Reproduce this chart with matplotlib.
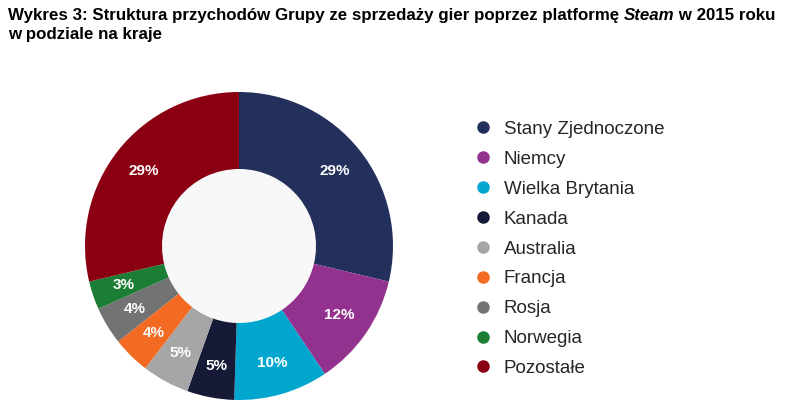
import matplotlib
matplotlib.use("Agg")
import matplotlib.pyplot as plt
from matplotlib.lines import Line2D

categories = ["Stany Zjednoczone", "Niemcy", "Wielka Brytania", "Kanada", "Australia",
              "Francja", "Rosja", "Norwegia", "Pozostałe"]
values = [29, 12, 10, 5, 5, 4, 4, 3, 29]
colors = ["#23305c", "#93328e", "#00a6ce", "#161a36", "#a6a6a6",
          "#f36b22", "#737373", "#1c7e34", "#8a0012"]

plt.rcParams['font.family'] = ['Liberation Sans', 'DejaVu Sans']

fig = plt.figure(figsize=(7.86, 4.04), dpi=100)
W, H = 786, 404

# Donut
cx, cy, R = 239, 246, 154
ax = fig.add_axes([(cx - R) / W, (H - cy - R) / H, 2 * R / W, 2 * R / H])
labels_iter = iter(values)
wedges, texts, autotexts = ax.pie(
    values, colors=colors, startangle=90, counterclock=False,
    wedgeprops=dict(width=0.5, edgecolor='none'),
    autopct=lambda p: f"{next(labels_iter)}%", pctdistance=0.79,
    textprops=dict(color='white', fontsize=11, fontweight='bold'))
hole = plt.Circle((0, 0), 0.5, color='#f8f8f8', zorder=0)
ax.add_patch(hole)
ax.set_xlim(-1, 1)
ax.set_ylim(-1, 1)
ax.set_aspect('equal')
ax.axis('off')

# Legend
handles = [Line2D([0], [0], marker='o', linestyle='none', markersize=8,
                  markerfacecolor=c, markeredgecolor=c) for c in colors]
leg = fig.legend(handles, categories, loc='upper left',
                 bbox_to_anchor=(457 / W, 1 - 104 / H), frameon=False,
                 fontsize=13.5, labelspacing=0.68, handletextpad=0.6,
                 handlelength=1.0, labelcolor='#262626')

# Title with italic "Steam"
fig.canvas.draw()
renderer = fig.canvas.get_renderer()
parts = [("Wykres 3: Struktura przychodów Grupy ze sprzedaży gier poprzez platformę ", 'normal'),
         ("Steam", 'italic'),
         (" w 2015 roku", 'normal')]
x = 8 / W
y1 = 1 - 20 / H
for txt, style in parts:
    t = fig.text(x, y1, txt, fontsize=12.2, fontweight='bold', style=style,
                 ha='left', va='baseline', color='#000000')
    bb = t.get_window_extent(renderer)
    x = (bb.x1) / W
fig.text(8 / W, 1 - 39 / H, "w podziale na kraje", fontsize=12.2, fontweight='bold',
         ha='left', va='baseline', color='#000000')

fig.savefig("out.png", dpi=100)
